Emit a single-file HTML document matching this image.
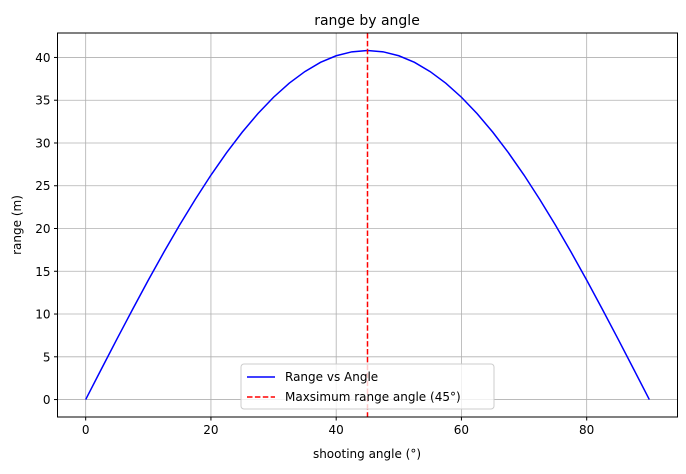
<!DOCTYPE html>
<html><head><meta charset="utf-8"><style>
body{margin:0;background:#fff;font-family:"DejaVu Sans","Liberation Sans",sans-serif;}
svg text{font-family:"DejaVu Sans","Liberation Sans",sans-serif;fill:#000}
</style></head><body>
<svg id="chart" width="686" height="470" xmlns="http://www.w3.org/2000/svg">
<g id="grid"></g>
<g id="ticks"></g>
<path id="curve" fill="none" stroke="#0000ff" stroke-width="1.5"/>
<line id="vline" stroke="#ff0000" stroke-width="1.5" stroke-dasharray="5.5,2.4"/>
<rect x="57.5" y="33" width="620" height="384" fill="none" stroke="#000" stroke-width="1"/>
<text x="367" y="25" font-size="14" text-anchor="middle">range by angle</text>
<text x="367" y="458" font-size="12" text-anchor="middle">shooting angle (°)</text>
<text x="0" y="0" font-size="12" text-anchor="middle" transform="translate(21,225) rotate(-90)">range (m)</text>
<g>
<rect x="241" y="364" width="253" height="45" rx="3" fill="#fff" fill-opacity="0.8" stroke="#ccc"/>
<line x1="247" y1="377" x2="275" y2="377" stroke="#0000ff" stroke-width="1.5"/>
<text x="285" y="381" font-size="12">Range vs Angle</text>
<line x1="247" y1="397" x2="275" y2="397" stroke="#ff0000" stroke-width="1.5" stroke-dasharray="5.5,2.4"/>
<text x="285" y="401" font-size="12">Maxsimum range angle (45°)</text>
</g>
</svg>
<script>
const angles=[0,2.5,5,7.5,10,12.5,15,17.5,20,22.5,25,27.5,30,32.5,35,37.5,40,42.5,45,47.5,50,52.5,55,57.5,60,62.5,65,67.5,70,72.5,75,77.5,80,82.5,85,87.5,90];
const ranges=[0,3.56,7.09,10.56,13.96,17.25,20.41,23.41,26.24,28.86,31.27,33.43,35.35,36.99,38.35,39.43,40.20,40.66,40.82,40.66,40.20,39.43,38.35,36.99,35.35,33.43,31.27,28.86,26.24,23.41,20.41,17.25,13.96,10.56,7.09,3.56,0];
const maxAngle=45;
const xTicks=[0,20,40,60,80];
const yTicks=[0,5,10,15,20,25,30,35,40];
const L=57.5,R=677.5,T=33,B=417;
const xmin=-4.5,xmax=94.5,ymin=-2.04,ymax=42.86;
const X=v=>L+(v-xmin)/(xmax-xmin)*(R-L);
const Y=v=>B-(v-ymin)/(ymax-ymin)*(B-T);
const NS="http://www.w3.org/2000/svg";
const grid=document.getElementById('grid'),ticks=document.getElementById('ticks');
function mk(tag,a,p){const e=document.createElementNS(NS,tag);for(const k in a)e.setAttribute(k,a[k]);p.appendChild(e);return e;}
xTicks.forEach(t=>{const x=X(t);
const g=mk('line',{x1:x,x2:x,y1:T,y2:B,stroke:'#b0b0b0','stroke-width':0.8},grid);


mk('line',{x1:x,x2:x,y1:B,y2:B+3.5,stroke:'#000'},ticks);
const tx=mk('text',{x:x,y:B+17,'font-size':12,'text-anchor':'middle'},ticks);tx.textContent=t;

});
yTicks.forEach(t=>{const y=Y(t);
const g=mk('line',{x1:L,x2:R,y1:y,y2:y,stroke:'#b0b0b0','stroke-width':0.8},grid);


mk('line',{x1:L-3.5,x2:L,y1:y,y2:y,stroke:'#000'},ticks);
const tx=mk('text',{x:L-7,y:y+4.5,'font-size':12,'text-anchor':'end'},ticks);tx.textContent=t;

});
document.getElementById('curve').setAttribute('d',angles.map((a,i)=>(i?'L':'M')+X(a).toFixed(2)+','+Y(ranges[i]).toFixed(2)).join(''));
const vl=document.getElementById('vline');
vl.setAttribute('x1',X(maxAngle));vl.setAttribute('x2',X(maxAngle));vl.setAttribute('y1',T);vl.setAttribute('y2',B);
</script>
</body></html>
